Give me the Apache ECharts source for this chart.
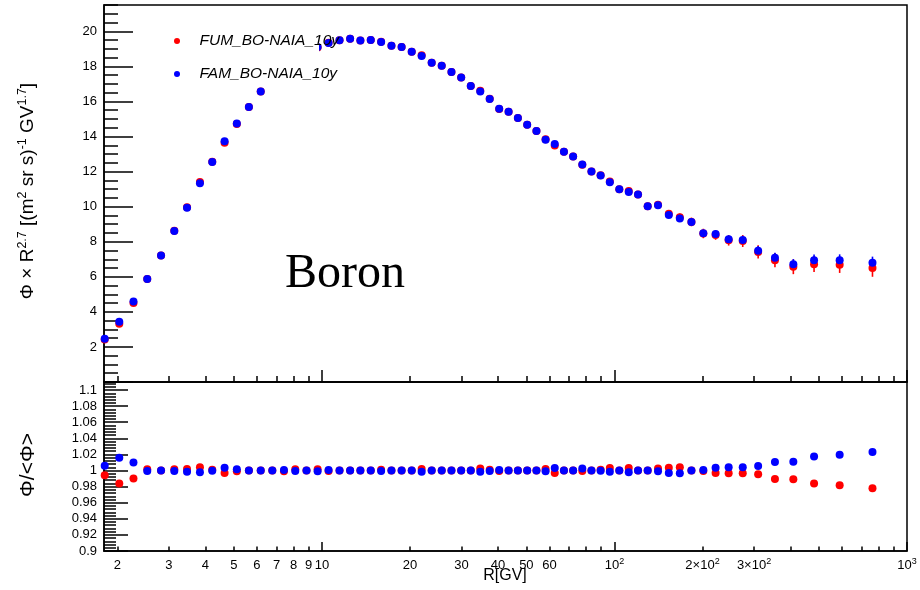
<!DOCTYPE html>
<html>
<head>
<meta charset="utf-8">
<script src="https://cdn.jsdelivr.net/npm/echarts@6/dist/echarts.min.js"></script>
<style>
  html, body { margin: 0; padding: 0; background: #ffffff; }
  #chart { width: 920px; height: 590px; }
</style>
</head>
<body>
<div id="chart"></div>
<script>
// Rigidity bin centres [GV]
const rigidity = [
  1.81, 2.03, 2.27, 2.53, 2.82, 3.13, 3.46, 3.83, 4.22, 4.65,
  5.12, 5.63, 6.18, 6.77, 7.42, 8.11, 8.86, 9.67, 10.54, 11.49,
  12.49, 13.54, 14.69, 15.94, 17.29, 18.73, 20.28, 21.93, 23.73, 25.68,
  27.73, 29.93, 32.28, 34.78, 37.47, 40.37, 43.47, 46.77, 50.32, 54.12,
  58.16, 62.51, 67.20, 72.25, 77.65, 83.45, 89.69, 96.44, 103.9, 111.9,
  120.4, 129.9, 140.9, 153.4, 167.3, 183.3, 201.3, 221.7, 245.7, 274.5,
  309.9, 353.7, 408.8, 481.2, 588.6, 762.1
];

// Flux x R^2.7, FUM selection
const fluxFUM = [
  2.43, 3.32, 4.50, 5.88, 7.22, 8.62, 9.97, 11.40, 12.56, 13.64,
  14.72, 15.68, 16.57, 17.35, 18.02, 18.49, 18.87, 19.08, 19.35, 19.49,
  19.57, 19.47, 19.51, 19.40, 19.18, 19.11, 18.84, 18.63, 18.21, 18.04,
  17.68, 17.37, 16.88, 16.61, 16.15, 15.57, 15.41, 15.05, 14.67, 14.31,
  13.84, 13.49, 13.13, 12.86, 12.39, 12.00, 11.79, 11.44, 10.99, 10.89,
  10.69, 10.02, 10.11, 9.60, 9.39, 9.13, 8.47, 8.38, 8.08, 8.04,
  7.42, 6.95, 6.57, 6.72, 6.69, 6.50
];

// Flux x R^2.7, FAM selection
const fluxFAM = [
  2.46, 3.43, 4.59, 5.87, 7.22, 8.61, 9.94, 11.34, 12.54, 13.73,
  14.74, 15.68, 16.57, 17.35, 18.00, 18.50, 18.85, 19.10, 19.34, 19.49,
  19.57, 19.47, 19.51, 19.39, 19.18, 19.11, 18.84, 18.59, 18.21, 18.04,
  17.68, 17.37, 16.88, 16.57, 16.14, 15.58, 15.41, 15.05, 14.67, 14.31,
  13.81, 13.57, 13.13, 12.86, 12.40, 12.00, 11.77, 11.39, 10.99, 10.84,
  10.69, 10.02, 10.08, 9.53, 9.32, 9.13, 8.48, 8.44, 8.14, 8.10,
  7.49, 7.09, 6.71, 6.95, 6.95, 6.80
];

// Flux uncertainties (same units as the fluxes)
const errFUM = [
  0.03, 0.03, 0.03, 0.03, 0.03, 0.03, 0.03, 0.03, 0.03, 0.03,
  0.04, 0.04, 0.04, 0.04, 0.04, 0.04, 0.04, 0.04, 0.04, 0.04,
  0.05, 0.05, 0.05, 0.05, 0.05, 0.05, 0.05, 0.05, 0.05, 0.05,
  0.06, 0.06, 0.06, 0.06, 0.06, 0.06, 0.06, 0.06, 0.06, 0.06,
  0.07, 0.08, 0.08, 0.09, 0.09, 0.10, 0.10, 0.11, 0.12, 0.13,
  0.14, 0.15, 0.17, 0.20, 0.22, 0.25, 0.27, 0.27, 0.30, 0.34,
  0.38, 0.40, 0.42, 0.45, 0.47, 0.50
];
const errFAM = [
  0.02, 0.02, 0.02, 0.02, 0.02, 0.02, 0.02, 0.02, 0.02, 0.02,
  0.03, 0.03, 0.03, 0.03, 0.03, 0.03, 0.03, 0.03, 0.03, 0.03,
  0.04, 0.04, 0.04, 0.04, 0.04, 0.04, 0.04, 0.04, 0.04, 0.04,
  0.04, 0.04, 0.04, 0.04, 0.04, 0.04, 0.04, 0.04, 0.04, 0.04,
  0.05, 0.06, 0.06, 0.06, 0.07, 0.07, 0.07, 0.08, 0.08, 0.09,
  0.10, 0.11, 0.12, 0.14, 0.16, 0.18, 0.19, 0.19, 0.21, 0.24,
  0.27, 0.28, 0.30, 0.32, 0.33, 0.35
];

// Ratio of each flux to the mean of the two
const ratioFUM = [
  0.994, 0.984, 0.990, 1.0015, 1.000, 1.0015, 1.002, 1.004, 1.001, 0.997,
  0.999, 1.000, 1.000, 1.000, 0.9992, 1.0015, 1.000, 1.0015, 0.9995, 1.000,
  1.000, 1.000, 1.000, 1.001, 1.000, 1.000, 1.000, 1.002, 1.000, 1.000,
  1.000, 1.000, 1.000, 1.0025, 1.001, 0.9993, 1.000, 1.000, 1.000, 1.000,
  1.002, 0.997, 1.000, 1.000, 0.9995, 1.000, 1.001, 1.003, 1.000, 1.003,
  1.000, 1.000, 1.0025, 1.0035, 1.004, 1.000, 0.9995, 0.9968, 0.9965, 0.9965,
  0.9955, 0.9895, 0.9893, 0.984, 0.9816, 0.978
];
const ratioFAM = [
  1.006, 1.016, 1.010, 0.9995, 1.000, 0.9995, 0.9985, 0.998, 0.9998, 1.0035,
  1.0015, 1.000, 1.000, 1.000, 1.0008, 0.9993, 1.000, 0.999, 1.0005, 1.000,
  1.000, 1.000, 1.000, 0.9995, 1.000, 1.000, 1.000, 0.9985, 1.000, 1.000,
  1.000, 1.000, 1.000, 0.9985, 0.9995, 1.0005, 1.000, 1.000, 1.000, 1.000,
  0.999, 1.003, 1.000, 1.000, 1.0025, 1.000, 0.9998, 0.9985, 1.000, 0.998,
  1.000, 1.000, 0.999, 0.9968, 0.9965, 1.000, 1.0005, 1.0035, 1.004, 1.004,
  1.0055, 1.0105, 1.011, 1.0173, 1.0197, 1.023
];

const seriesNames = ['FUM_BO-NAIA_10y', 'FAM_BO-NAIA_10y'];

// Rigidity axis tick marks and labels
const xMinorTicks = [2, 3, 4, 5, 6, 7, 8, 9, 20, 30, 40, 50, 60, 70, 80, 90,
                     200, 300, 400, 500, 600, 700, 800, 900];
const xMajorTicks = [10, 100, 1000];
const xLabelValues = [2, 3, 4, 5, 6, 7, 8, 9, 10, 20, 30, 40, 50, 60, 100, 200, 300, 1000];
const xLabelTexts = ['2', '3', '4', '5', '6', '7', '8', '9', '10', '20', '30', '40', '50', '60',
                     '10{s|2}', '2\u00d710{s|2}', '3\u00d710{s|2}', '10{s|3}'];

// Flux panel tick labels
const fluxTickLabels = [2, 4, 6, 8, 10, 12, 14, 16, 18, 20];
// Ratio panel tick labels
const ratioTickLabels = [0.9, 0.92, 0.94, 0.96, 0.98, 1.0, 1.02, 1.04, 1.06, 1.08, 1.1];

const R_MIN = 1.8, R_MAX = 1000;
const FLUX_MAX = 21.5, RATIO_MIN = 0.9, RATIO_MAX = 1.11;

const FONT = '"Liberation Sans", Arimo, Helvetica, Arial, sans-serif';
const INK = '#000000';

// Tick positions used by the helper axes
const fluxMajorTicks = [0].concat(fluxTickLabels);
const fluxMinorTicks = [];
for (let k = 1; k <= 43; k++) { if (k % 4 !== 0) fluxMinorTicks.push(k * 0.5); }
const ratioMinorTicks = [];
for (let k = 1; k <= 52; k++) { if (k % 5 !== 0) ratioMinorTicks.push(+(0.9 + k * 0.004).toFixed(3)); }

const logMin = Math.log10(R_MIN), logMax = Math.log10(R_MAX);
const toLog = v => Math.log10(v);

// Linear helper axis spanning log10(R): carries the decade / sub-decade tick marks
function tickAxis(gridIndex, values, len, labels) {
  return {
    type: 'value', gridIndex: gridIndex, position: 'bottom', offset: 0,
    min: logMin, max: logMax,
    axisLine: { show: false }, splitLine: { show: false },
    axisTick: { show: true, inside: true, length: len, customValues: values.map(toLog),
                lineStyle: { color: INK, width: 1.5 } },
    axisLabel: labels ? labels : { show: false }
  };
}

const xLabelStyle = {
  show: true,
  customValues: xLabelValues.map(toLog),
  margin: 6,
  fontFamily: FONT, fontSize: 13, color: INK, lineHeight: 16,
  formatter: function (v) {
    const i = xLabelValues.findIndex(r => Math.abs(Math.log10(r) - v) < 1e-6);
    return i >= 0 ? xLabelTexts[i] : '';
  },
  rich: { s: { fontFamily: FONT, fontSize: 9, lineHeight: 10, verticalAlign: 'top', color: INK } }
};

function dataLogAxis(gridIndex) {
  return {
    type: 'log', logBase: 10, gridIndex: gridIndex, position: 'bottom', offset: 0,
    min: R_MIN, max: R_MAX,
    axisLine: { show: true, lineStyle: { color: INK, width: 1.5 } },
    axisTick: { show: false }, axisLabel: { show: false }, splitLine: { show: false }
  };
}

function valueAxis(gridIndex, min, max, extra) {
  return Object.assign({
    type: 'value', gridIndex: gridIndex, position: 'left', offset: 0, min: min, max: max,
    axisLine: { show: false }, splitLine: { show: false }, axisLabel: { show: false }
  }, extra);
}

function errorBar(params, api) {
  const x = api.value(0), y = api.value(1), e = api.value(2);
  const lo = api.coord([x, y - e]);
  const hi = api.coord([x, y + e]);
  return {
    type: 'line',
    shape: { x1: lo[0], y1: lo[1], x2: hi[0], y2: hi[1] },
    style: { stroke: api.visual('color'), lineWidth: 1.6 }
  };
}

const pts = (ys) => rigidity.map((r, i) => [r, ys[i]]);
const errPts = (ys, es) => rigidity.map((r, i) => [r, ys[i], es[i]]);

const option = {
  animation: false,
  backgroundColor: '#ffffff',
  grid: [
    { left: 104, right: 13, top: 5, height: 377, show: true, borderColor: INK, borderWidth: 1.5, backgroundColor: 'transparent' },
    { left: 104, right: 13, top: 382, height: 169, show: true, borderColor: INK, borderWidth: 1.5, backgroundColor: 'transparent' }
  ],
  xAxis: [
    dataLogAxis(0),
    tickAxis(0, xMinorTicks, 6),
    tickAxis(0, xMajorTicks, 12),
    dataLogAxis(1),
    tickAxis(1, xMinorTicks, 4.5, xLabelStyle),
    tickAxis(1, xMajorTicks, 9)
  ],
  yAxis: [
    valueAxis(0, 0, FLUX_MAX, {
      axisLine: { show: true, lineStyle: { color: INK, width: 1.5 } },
      axisTick: { show: true, inside: true, length: 29, customValues: fluxMajorTicks,
                  lineStyle: { color: INK, width: 1.5 } },
      axisLabel: { show: true, customValues: fluxTickLabels, margin: 7,
                   fontFamily: FONT, fontSize: 13, color: INK }
    }),
    valueAxis(0, 0, FLUX_MAX, {
      axisTick: { show: true, inside: true, length: 14, customValues: fluxMinorTicks,
                  lineStyle: { color: INK, width: 1.5 } }
    }),
    valueAxis(1, RATIO_MIN, RATIO_MAX, {
      axisLine: { show: true, lineStyle: { color: INK, width: 1.5 } },
      axisTick: { show: true, inside: true, length: 24, customValues: ratioTickLabels,
                  lineStyle: { color: INK, width: 1.5 } },
      axisLabel: { show: true, customValues: ratioTickLabels, margin: 7,
                   fontFamily: FONT, fontSize: 13, color: INK,
                   formatter: v => String(+(+v).toFixed(2)) }
    }),
    valueAxis(1, RATIO_MIN, RATIO_MAX, {
      axisTick: { show: true, inside: true, length: 12, customValues: ratioMinorTicks,
                  lineStyle: { color: INK, width: 1.5 } }
    })
  ],
  legend: {
    data: seriesNames,
    orient: 'vertical',
    left: 174, top: 33,
    padding: 0,
    itemWidth: 35, itemHeight: 6, itemGap: 17,
    icon: 'circle',
    selectedMode: false,
    textStyle: { fontFamily: FONT, fontSize: 15.5, fontStyle: 'italic', color: INK, lineHeight: 16 }
  },
  graphic: [
    // Opaque legend pad
    { type: 'rect', z: 3, silent: true,
      shape: { x: 165, y: 22, width: 154, height: 65 },
      style: { fill: '#ffffff' } },
    { type: 'text', z: 5, silent: true, x: 285, y: 274,
      style: { text: 'Boron', font: '48px "Liberation Serif", "Times New Roman", serif',
               fill: INK, align: 'left', verticalAlign: 'middle' } },
    { type: 'text', z: 5, silent: true, x: 28, y: 191, rotation: Math.PI / 2,
      style: {
        text: '{n|\u03a6 \u00d7 R}{s|2.7}{n| [(m}{s|2}{n| sr s)}{s|-1}{n| GV}{s|1.7}{n|]}',
        align: 'center', verticalAlign: 'middle', fill: INK,
        rich: {
          n: { fontFamily: FONT, fontSize: 19, lineHeight: 23, fill: INK },
          s: { fontFamily: FONT, fontSize: 12.5, lineHeight: 11, verticalAlign: 'top', fill: INK }
        }
      } },
    { type: 'text', z: 5, silent: true, x: 28, y: 465, rotation: Math.PI / 2,
      style: { text: '\u03a6/<\u03a6>', font: '21px ' + FONT, fill: INK,
               align: 'center', verticalAlign: 'middle' } },
    { type: 'text', z: 5, silent: true, x: 505, y: 576,
      style: { text: 'R[GV]', font: '16px ' + FONT, fill: INK,
               align: 'center', verticalAlign: 'middle' } }
  ],
  series: [
    { name: 'FUM error', type: 'custom', xAxisIndex: 0, yAxisIndex: 0,
      itemStyle: { color: '#ff0000' }, renderItem: errorBar,
      encode: { x: 0, y: 1 }, data: errPts(fluxFUM, errFUM), z: 2 },
    { name: seriesNames[0], type: 'scatter', xAxisIndex: 0, yAxisIndex: 0,
      symbol: 'circle', symbolSize: 8, itemStyle: { color: '#ff0000', opacity: 1 },
      data: pts(fluxFUM), z: 2 },
    { name: 'FAM error', type: 'custom', xAxisIndex: 0, yAxisIndex: 0,
      itemStyle: { color: '#0000ff' }, renderItem: errorBar,
      encode: { x: 0, y: 1 }, data: errPts(fluxFAM, errFAM), z: 2 },
    { name: seriesNames[1], type: 'scatter', xAxisIndex: 0, yAxisIndex: 0,
      symbol: 'circle', symbolSize: 8, itemStyle: { color: '#0000ff', opacity: 1 },
      data: pts(fluxFAM), z: 2 },
    { name: seriesNames[0], type: 'scatter', xAxisIndex: 3, yAxisIndex: 2,
      symbol: 'circle', symbolSize: 8, itemStyle: { color: '#ff0000', opacity: 1 },
      data: pts(ratioFUM), z: 2 },
    { name: seriesNames[1], type: 'scatter', xAxisIndex: 3, yAxisIndex: 2,
      symbol: 'circle', symbolSize: 8, itemStyle: { color: '#0000ff', opacity: 1 },
      data: pts(ratioFAM), z: 2 }
  ]
};

const chart = echarts.init(document.getElementById('chart'), null, { renderer: 'canvas' });
chart.setOption(option);
</script>
</body>
</html>
